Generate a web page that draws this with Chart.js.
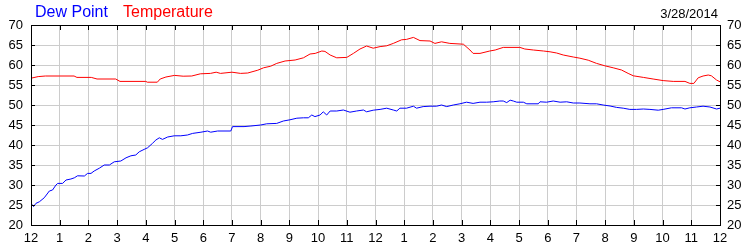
<!DOCTYPE html>
<html>
<head>
<meta charset="utf-8">
<script src="https://cdn.jsdelivr.net/npm/chart.js@4.4.1/dist/chart.umd.min.js"></script>
<style>
    body { margin: 0; background: #fff; }
    #wrap { position: relative; width: 750px; height: 250px; font-family: "Liberation Sans", Arial, sans-serif; }
    .lbl { position: absolute; top: 4px; font-size: 16px; line-height: 16px; white-space: nowrap; }
    #date { position: absolute; top: 7px; right: 32px; font-size: 13px; line-height: 13px; color: #000; }
</style>
</head>
<body>
<div id="wrap">
    <canvas id="weatherChart" width="750" height="250"></canvas>
    <span class="lbl" style="left:35px;color:#0000ff">Dew Point</span>
    <span class="lbl" style="left:123px;color:#ff0000">Temperature</span>
    <span id="date">3/28/2014</span>
</div>
<script>
    // hours since midnight
    const tempHours = [0, 0.25, 0.5, 1.0, 1.5, 1.6, 2.1, 2.3, 2.95, 3.1, 4.0, 4.05, 4.4, 4.5, 4.7, 5.0, 5.3, 5.6, 5.9, 6.25,
        6.45, 6.6, 7.0, 7.3, 7.55, 7.9, 8.1, 8.35, 8.56, 8.85, 9.2, 9.49, 9.72, 9.9, 10.13, 10.24, 10.42, 10.65, 11.0, 11.23,
        11.46, 11.69, 11.92, 12.16, 12.39, 12.62, 12.91, 13.08, 13.32, 13.55, 13.9, 14.07, 14.3, 14.59, 15.06, 15.29, 15.4, 15.64, 15.98, 16.17,
        16.45, 17.03, 17.2, 17.5, 17.85, 18.08, 18.31, 18.54, 18.89, 19.12, 19.41, 19.7, 19.99, 20.28, 20.57, 20.8, 20.98, 21.33, 21.67, 22.02,
        22.37, 22.78, 22.95, 23.09, 23.24, 23.41, 23.59, 23.7, 23.88, 24.0];
    const tempValues = [56.7, 57.1, 57.25, 57.25, 57.25, 56.9, 56.9, 56.5, 56.5, 55.9, 55.9, 55.7, 55.7, 56.5, 57, 57.4, 57.2, 57.25, 57.8, 57.9,
        58.2, 57.9, 58.2, 57.9, 58, 58.7, 59.3, 59.7, 60.4, 61, 61.25, 61.8, 62.75, 62.9, 63.5, 63.4, 62.5, 61.8, 61.9, 62.9,
        64, 64.75, 64.2, 64.6, 64.8, 65.4, 66.3, 66.4, 66.9, 66.1, 66, 65.4, 65.8, 65.4, 65.2, 63.75, 62.9, 62.9, 63.5, 63.75,
        64.4, 64.4, 64, 63.75, 63.5, 63.3, 63, 62.5, 62, 61.7, 61.2, 60.4, 59.8, 59.3, 58.75, 57.9, 57.3, 56.9, 56.5, 56.1,
        55.9, 55.9, 55.4, 55.4, 56.8, 57.25, 57.5, 57.3, 56.25, 55.8];

    const dewHours = [0, 0.09, 0.17, 0.29, 0.46, 0.64, 0.75, 0.87, 0.93, 1.1, 1.22, 1.39, 1.51, 1.62, 1.86, 1.97, 2.09, 2.2, 2.38, 2.55,
        2.73, 2.9, 3.13, 3.31, 3.48, 3.65, 3.77, 3.94, 4.06, 4.23, 4.35, 4.47, 4.58, 4.76, 4.99, 5.22, 5.45, 5.63, 5.92, 6.15,
        6.26, 6.5, 6.96, 7.02, 7.42, 7.66, 8.0, 8.21, 8.56, 8.79, 9.02, 9.26, 9.49, 9.66, 9.78, 9.89, 10.07, 10.18, 10.3, 10.42,
        10.65, 10.88, 11.11, 11.34, 11.58, 11.69, 11.92, 12.16, 12.39, 12.62, 12.74, 12.85, 13.08, 13.32, 13.43, 13.66, 13.9, 14.13, 14.3, 14.48,
        14.71, 14.94, 15.17, 15.4, 15.64, 15.87, 16.1, 16.33, 16.45, 16.57, 16.69, 16.8, 16.92, 17.15, 17.27, 17.67, 17.73, 17.96, 18.19, 18.43,
        18.66, 18.89, 19.12, 19.47, 19.7, 19.93, 20.17, 20.4, 20.63, 20.86, 21.09, 21.33, 21.56, 21.85, 22.02, 22.31, 22.66, 22.78, 22.95, 23.18,
        23.41, 23.65, 23.88, 24.0];
    const dewValues = [25.4, 24.6, 25.4, 25.8, 26.8, 28.5, 28.75, 30, 30.4, 30.4, 31.25, 31.5, 31.8, 32.3, 32.25, 32.9, 32.9, 33.5, 34.2, 35,
        35, 35.8, 36, 36.8, 37.3, 37.5, 38.3, 38.9, 39.3, 40.4, 41.25, 41.8, 41.4, 42, 42.3, 42.3, 42.5, 42.9, 43.2, 43.5,
        43.2, 43.5, 43.5, 44.6, 44.6, 44.75, 45, 45.3, 45.4, 46, 46.3, 46.7, 46.8, 46.8, 47.5, 47.1, 47.5, 48.3, 47.5, 48.5,
        48.5, 48.75, 48.2, 48.5, 48.75, 48.3, 48.7, 48.9, 49.2, 48.75, 48.5, 49.2, 49.2, 49.7, 49.2, 49.6, 49.7, 49.7, 50, 49.6,
        50, 50.3, 50.7, 50.4, 50.7, 50.7, 50.8, 51, 51, 50.6, 51.2, 51, 50.7, 50.7, 50.3, 50.3, 50.8, 50.7, 51, 50.7,
        50.8, 50.5, 50.5, 50.3, 50.3, 50, 49.75, 49.4, 49.2, 48.9, 48.9, 49, 48.9, 48.7, 48.9, 49.3, 49.3, 49, 49.3, 49.5,
        49.7, 49.5, 49, 49.2];

    const xTickLabels = ['12', '1', '2', '3', '4', '5', '6', '7', '8', '9', '10', '11',
        '12', '1', '2', '3', '4', '5', '6', '7', '8', '9', '10', '11', '12'];

    const toPoints = (xs, ys) => xs.map((h, i) => ({ x: h, y: ys[i] }));

    // black frame + inward tick marks
    const frameTicks = {
        id: 'frameTicks',
        afterDraw(chart) {
            const { ctx, chartArea: a, scales } = chart;
            ctx.save();
            ctx.strokeStyle = '#000';
            ctx.lineWidth = 1;
            ctx.beginPath();
            scales.x.ticks.forEach(t => {
                const px = Math.round(scales.x.getPixelForValue(t.value)) + 0.5;
                ctx.moveTo(px, a.top); ctx.lineTo(px, a.top + 5);
                ctx.moveTo(px, a.bottom); ctx.lineTo(px, a.bottom - 5);
            });
            scales.y.ticks.forEach(t => {
                const py = Math.round(scales.y.getPixelForValue(t.value)) + 0.5;
                ctx.moveTo(a.left, py); ctx.lineTo(a.left + 4, py);
                ctx.moveTo(a.right, py); ctx.lineTo(a.right - 4, py);
            });
            ctx.stroke();
            ctx.strokeRect(Math.round(a.left) + 0.5, Math.round(a.top) + 0.5,
                Math.round(a.right - a.left), Math.round(a.bottom - a.top));
            ctx.restore();
        }
    };

    const tickFont = { family: '"Liberation Sans", Arial, sans-serif', size: 13 };

    new Chart(document.getElementById('weatherChart'), {
        type: 'line',
        data: {
            datasets: [{
                label: 'Temperature',
                data: toPoints(tempHours, tempValues),
                borderColor: '#ff0000',
                borderWidth: 1,
                pointRadius: 0,
                tension: 0
            }, {
                label: 'Dew Point',
                data: toPoints(dewHours, dewValues),
                borderColor: '#0000ff',
                borderWidth: 1,
                pointRadius: 0,
                tension: 0
            }]
        },
        options: {
            responsive: false,
            animation: false,
            devicePixelRatio: 1,
            layout: { padding: { top: 25, left: 0, right: 0, bottom: 0 } },
            plugins: { legend: { display: false }, tooltip: { enabled: false } },
            scales: {
                x: {
                    type: 'linear', min: 0, max: 24,
                    grid: { color: '#cccccc', drawTicks: false },
                    border: { display: false },
                    ticks: {
                        stepSize: 1, autoSkip: false, maxRotation: 0, padding: 6,
                        color: '#000', font: tickFont,
                        callback: (v, i) => xTickLabels[i]
                    },
                    afterFit: s => { s.height = 25; }
                },
                y: {
                    position: 'left', min: 20, max: 70,
                    grid: { color: '#cccccc', drawTicks: false },
                    border: { display: false },
                    ticks: { stepSize: 5, padding: 8, color: '#000', font: tickFont },
                    afterFit: s => { s.width = 31; }
                },
                y2: {
                    position: 'right', min: 20, max: 70,
                    grid: { display: false, drawTicks: false },
                    border: { display: false },
                    ticks: { stepSize: 5, padding: 7, color: '#000', font: tickFont },
                    afterFit: s => { s.width = 30; }
                }
            }
        },
        plugins: [frameTicks]
    });
</script>
</body>
</html>
